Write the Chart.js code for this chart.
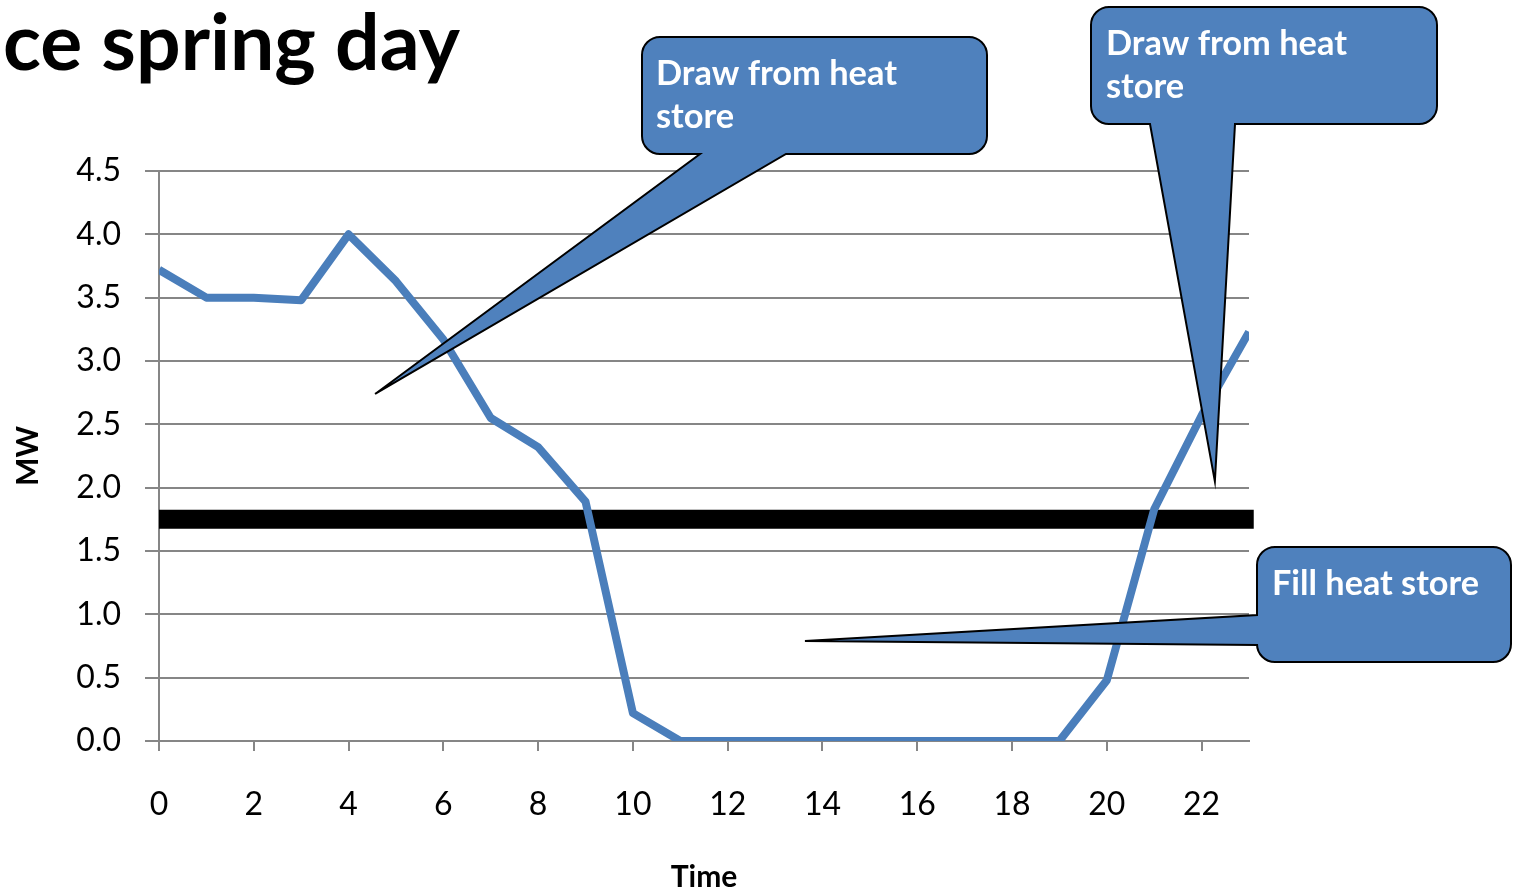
<!DOCTYPE html>
<html>
<head>
<meta charset="utf-8">
<title>Spring day heat demand</title>
<script src="https://cdn.jsdelivr.net/npm/chart.js@4/dist/chart.umd.min.js"></script>
<style>
  html, body { margin: 0; padding: 0; background: #ffffff; }
  #wrap { position: relative; width: 1515px; height: 893px; }
</style>
</head>
<body>
<div id="wrap"><canvas id="chart"></canvas></div>
<script>
// Hourly heat demand over a spring day (MW)
const hours = [0, 1, 2, 3, 4, 5, 6, 7, 8, 9, 10, 11, 12, 13, 14, 15, 16, 17, 18, 19, 20, 21, 22, 23];
const demandMW = [3.72, 3.50, 3.50, 3.48, 4.00, 3.63, 3.17, 2.55, 2.32, 1.89, 0.22, 0.00,
                  0.00, 0.00, 0.00, 0.00, 0.00, 0.00, 0.00, 0.00, 0.48, 1.83, 2.57, 3.23];
// Steady supply level of the plant
const supplyMW = 1.75;
const supplySpan = [0, 23.1];
const xTickHours = [0, 2, 4, 6, 8, 10, 12, 14, 16, 18, 20, 22];
const yTickValues = [0, 0.5, 1, 1.5, 2, 2.5, 3, 3.5, 4, 4.5];

const titleText = 'ce spring day';
const yTitle = 'MW';
const xTitle = 'Time';

const FONT = 'Lato, "Open Sans", sans-serif';
const GRID = '#868686';
const BLUE = '#4A7EBB';
const CALLOUT_FILL = '#4F81BD';

// Speech-bubble notes: box in page pixels, pointer tip in chart units
const callouts = [
  { lines: ['Draw from heat', 'store'], box: { x: 642, y: 37, w: 345, h: 117, r: 18 },
    side: 'bottom', base: [700, 786], tip: { hour: 4.56, mw: 2.74 },
    textX: 656, baselines: [85, 128], fitWidth: 241 },
  { lines: ['Draw from heat', 'store'], box: { x: 1091, y: 7, w: 346, h: 117, r: 18 },
    side: 'bottom', base: [1150, 1235], tip: { hour: 22.28, mw: 2.05 },
    textX: 1106, baselines: [55, 98], fitWidth: 241 },
  { lines: ['Fill heat store'], box: { x: 1257, y: 547, w: 254, h: 115, r: 18 },
    side: 'left', base: [615, 645], tip: { hour: 13.63, mw: 0.79 },
    textX: 1272, baselines: [595], fitWidth: 207 }
];

function fitSize(ctx, text, width, weight) {
  ctx.save();
  ctx.font = weight + ' 100px ' + FONT;
  const w = ctx.measureText(text).width;
  ctx.restore();
  return 100 * width / w;
}

function bubblePath(ctx, c, tx, ty) {
  const { x, y, w, h, r } = c.box;
  ctx.beginPath();
  ctx.moveTo(x + r, y);
  ctx.lineTo(x + w - r, y);
  ctx.arcTo(x + w, y, x + w, y + r, r);
  ctx.lineTo(x + w, y + h - r);
  ctx.arcTo(x + w, y + h, x + w - r, y + h, r);
  if (c.side === 'bottom') {
    ctx.lineTo(c.base[1], y + h);
    ctx.lineTo(tx, ty);
    ctx.lineTo(c.base[0], y + h);
  }
  ctx.lineTo(x + r, y + h);
  ctx.arcTo(x, y + h, x, y + h - r, r);
  if (c.side === 'left') {
    ctx.lineTo(x, c.base[1]);
    ctx.lineTo(tx, ty);
    ctx.lineTo(x, c.base[0]);
  }
  ctx.lineTo(x, y + r);
  ctx.arcTo(x, y, x + r, y, r);
  ctx.closePath();
}

const decorations = {
  id: 'decorations',
  afterDraw(chart) {
    const ctx = chart.ctx;
    const xs = chart.scales.x, ys = chart.scales.y;

    // cropped slide heading
    ctx.save();
    const ts = fitSize(ctx, titleText, 457, 'bold');
    ctx.font = 'bold ' + ts + 'px ' + FONT;
    ctx.fillStyle = '#000000';
    ctx.textBaseline = 'alphabetic';
    ctx.textAlign = 'left';
    ctx.fillText(titleText, 3, 70);
    ctx.restore();

    callouts.forEach(c => {
      const tx = xs.getPixelForValue(c.tip.hour);
      const ty = ys.getPixelForValue(c.tip.mw);
      ctx.save();
      bubblePath(ctx, c, tx, ty);
      ctx.fillStyle = CALLOUT_FILL;
      ctx.fill();
      ctx.lineWidth = 2;
      ctx.lineJoin = 'miter';
      ctx.strokeStyle = '#000000';
      ctx.stroke();
      const fs = fitSize(ctx, c.lines[0], c.fitWidth, 'bold');
      ctx.font = 'bold ' + fs + 'px ' + FONT;
      ctx.fillStyle = '#ffffff';
      ctx.textAlign = 'left';
      ctx.textBaseline = 'alphabetic';
      c.lines.forEach((t, i) => ctx.fillText(t, c.textX, c.baselines[i]));
      ctx.restore();
    });
  }
};

new Chart(document.getElementById('chart'), {
  type: 'line',
  data: {
    datasets: [
      {
        label: 'Heat demand',
        data: hours.map((h, i) => ({ x: h, y: demandMW[i] })),
        borderColor: BLUE,
        borderWidth: 8,
        borderJoinStyle: 'round',
        pointRadius: 0,
        tension: 0,
        order: 1
      },
      {
        label: 'Supply',
        data: supplySpan.map(h => ({ x: h, y: supplyMW })),
        borderColor: '#000000',
        borderWidth: 19,
        borderCapStyle: 'butt',
        pointRadius: 0,
        clip: false,
        order: 2
      }
    ]
  },
  options: {
    responsive: true,
    maintainAspectRatio: false,
    animation: false,
    events: [],
    layout: { padding: { top: 171, right: 266, bottom: 0, left: 0 } },
    plugins: {
      legend: { display: false },
      tooltip: { enabled: false },
      title: { display: false }
    },
    scales: {
      x: {
        type: 'linear',
        min: 0,
        max: 23,
        afterBuildTicks: s => { s.ticks = xTickHours.map(v => ({ value: v })); },
        afterFit: s => { s.height = 152; },
        ticks: {
          color: '#000000',
          font: { family: FONT, size: 32 },
          padding: 34,
          maxRotation: 0,
          callback: v => String(v)
        },
        grid: { drawOnChartArea: false, drawTicks: true, tickLength: 10, color: GRID, lineWidth: 2 },
        border: { display: true, color: GRID, width: 2 },
        title: {
          display: true, text: xTitle, color: '#000000',
          font: { family: FONT, size: 30, weight: 'bold' },
          padding: { top: 0, bottom: -2 }
        }
      },
      y: {
        min: 0,
        max: 4.5,
        afterBuildTicks: s => { s.ticks = yTickValues.map(v => ({ value: v })); },
        afterFit: s => { s.width = 159; },
        ticks: {
          color: '#000000',
          font: { family: FONT, size: 32 },
          padding: 24,
          callback: v => Number(v).toFixed(1)
        },
        grid: { drawTicks: true, tickLength: 14, color: GRID, lineWidth: 2 },
        border: { display: true, color: GRID, width: 2 },
        title: {
          display: true, text: yTitle, color: '#000000',
          font: { family: FONT, size: 30, weight: 'bold' },
          padding: { top: 10, bottom: 0 }
        }
      }
    }
  },
  plugins: [decorations]
});
</script>
</body>
</html>
